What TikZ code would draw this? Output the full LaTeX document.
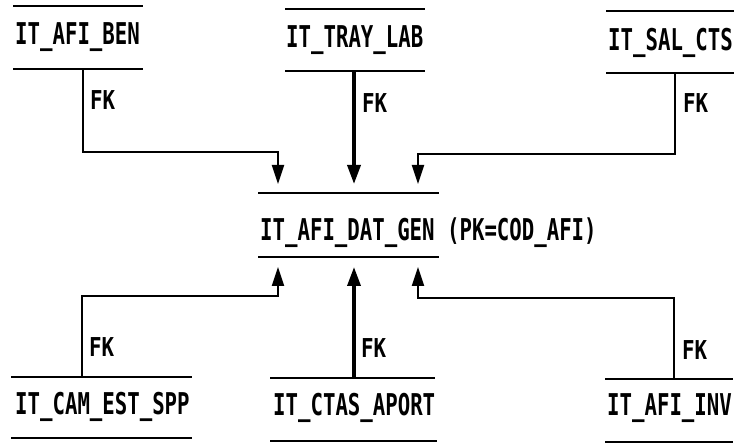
\documentclass[tikz,border=0pt]{standalone}
\usepackage{fontspec}
\newfontfamily\dfont[FakeStretch=0.69]{DejaVu Sans Mono}
\newfontfamily\kfont[FakeStretch=0.8]{DejaVu Sans Mono}
\usetikzlibrary{arrows.meta}
\tikzset{
  ent/.style={anchor=west, inner sep=0pt, font=\dfont\bfseries\fontsize{30}{32}\selectfont},
  fk/.style={anchor=west, inner sep=0pt, font=\kfont\bfseries\fontsize{26}{28}\selectfont},
  rule/.style={line width=2.3pt},
  conn/.style={line width=2.2pt, -{Triangle[length=19pt,width=12pt]}},
  connthick/.style={line width=3.5pt, -{Triangle[length=19pt,width=13pt]}},
}
\begin{document}
\begin{tikzpicture}[x=1pt,y=-1pt]
\useasboundingbox (0,0) rectangle (736,443);
% central entity
\node[ent] (gen) at (260,233) {IT\_AFI\_DAT\_GEN (PK=COD\_AFI)};
\draw[rule] (258,193) -- (439,193);
\draw[rule] (258,257) -- (439,257);
\coordinate (gT1) at (278,184);
\coordinate (gT2) at (354,184);
\coordinate (gT3) at (418,184);
\coordinate (gB1) at (278,267);
\coordinate (gB2) at (354,267);
\coordinate (gB3) at (418,267);
% top entities
\node[ent] (ben) at (15,37) {IT\_AFI\_BEN};
\draw[rule] (13,6) -- (143,6);
\draw[rule] (13,69) -- (143,69);
\coordinate (benA) at (83,69);
\coordinate (benC) at (278,152);
\node[ent] (tray) at (286,40) {IT\_TRAY\_LAB};
\draw[rule] (285,9) -- (425,9);
\draw[rule] (285,71) -- (425,71);
\coordinate (trayA) at (354,71);
\node[ent] (sal) at (608,43) {IT\_SAL\_CTS};
\draw[rule] (606,11) -- (734,11);
\draw[rule] (606,73) -- (734,73);
\coordinate (salA) at (675,73);
\coordinate (salC) at (418,154);
% bottom entities
\node[ent] (cam) at (15,407) {IT\_CAM\_EST\_SPP};
\draw[rule] (11,377) -- (192,377);
\draw[rule] (11,438) -- (192,438);
\coordinate (camA) at (82,377);
\coordinate (camC) at (278,296);
\node[ent] (ctas) at (273,408) {IT\_CTAS\_APORT};
\draw[rule] (270,378) -- (435,378);
\draw[rule] (270,441) -- (437,441);
\coordinate (ctasA) at (354,378);
\node[ent] (inv) at (607,408) {IT\_AFI\_INV};
\draw[rule] (605,379) -- (733,379);
\draw[rule] (605,442) -- (733,442);
\coordinate (invA) at (674,379);
\coordinate (invC) at (418,298);
% connectors
\draw[conn] (benA) |- (benC) -- (gT1);
\draw[connthick] (trayA) -- (gT2);
\draw[conn] (salA) |- (salC) -- (gT3);
\draw[conn] (camA) |- (camC) -- (gB1);
\draw[connthick] (ctasA) -- (gB2);
\draw[conn] (invA) |- (invC) -- (gB3);
% labels
\node[fk] (fk1) at (90,100) {FK};
\node[fk] (fk2) at (362,103) {FK};
\node[fk] (fk3) at (683,103) {FK};
\node[fk] (fk4) at (89,347) {FK};
\node[fk] (fk5) at (361,348) {FK};
\node[fk] (fk6) at (682,350) {FK};
\end{tikzpicture}
\end{document}
